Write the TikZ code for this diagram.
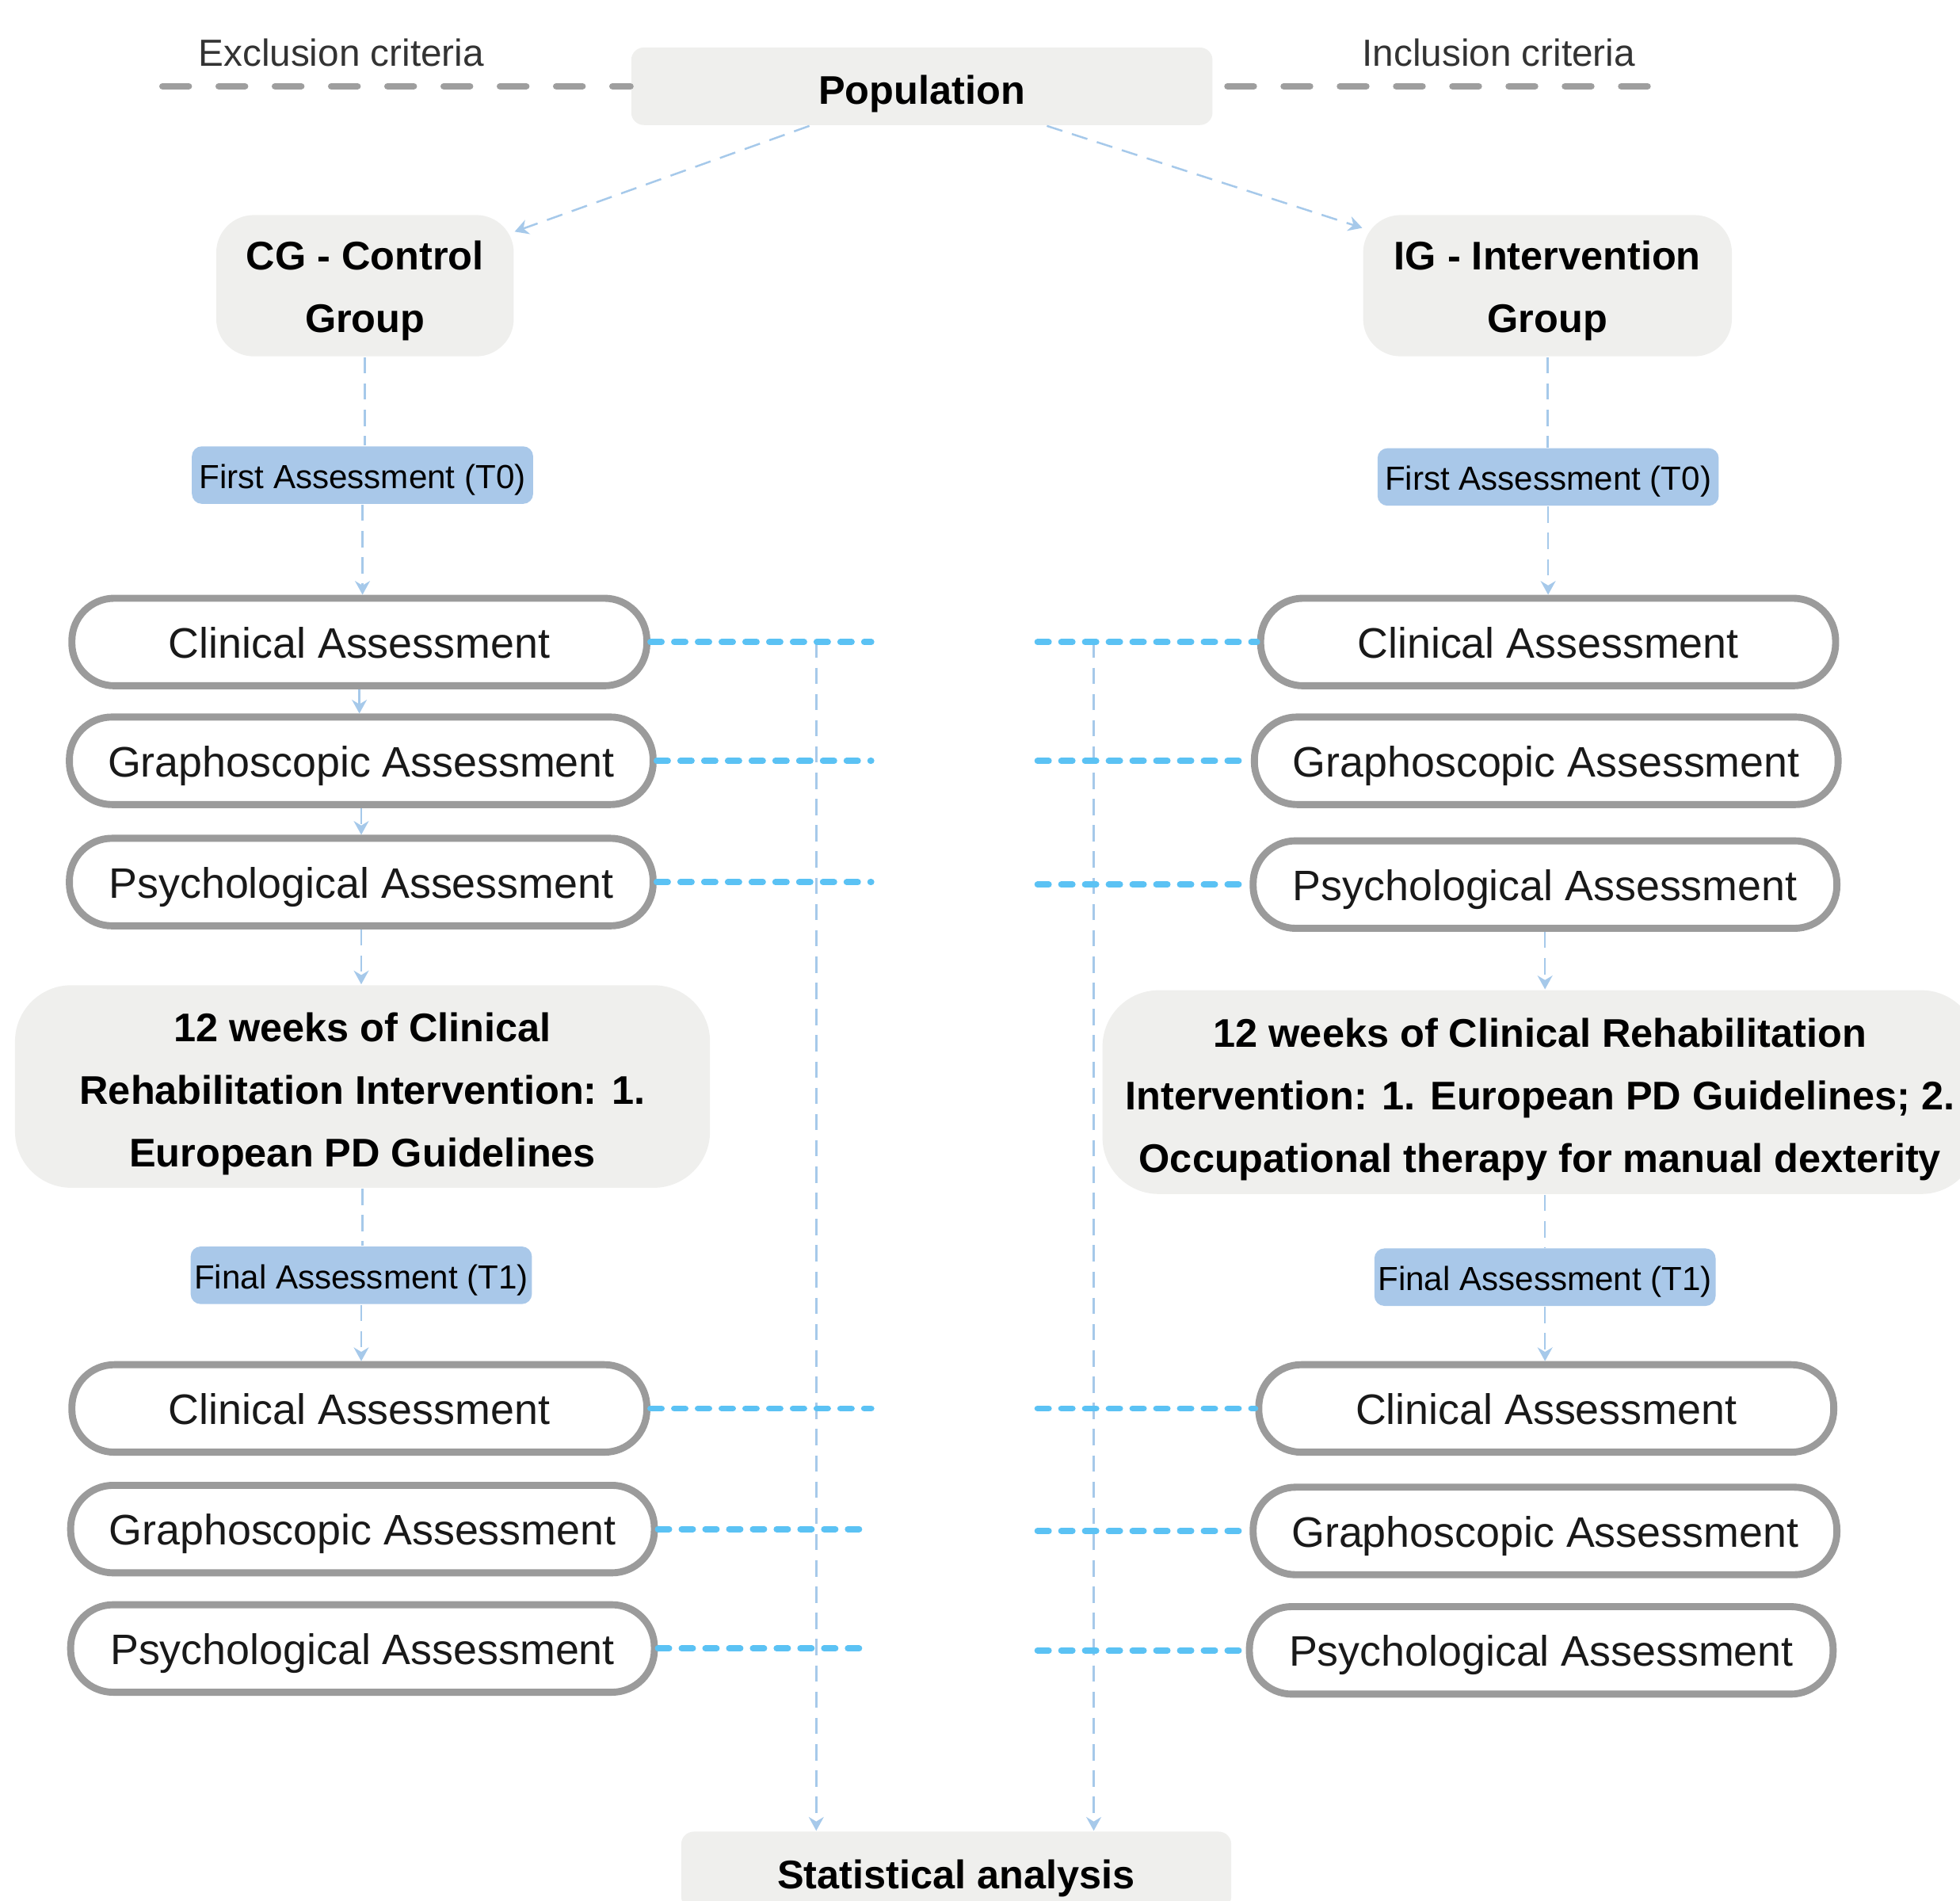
\documentclass[tikz,border=0pt]{standalone}
\usepackage{fontspec}
\setmainfont{Liberation Sans}
\usepackage{tikz}
\usetikzlibrary{arrows.meta}

\definecolor{boxgrey}{HTML}{EFEFED}
\definecolor{edgegrey}{HTML}{9B9B9B}
\definecolor{tagblue}{HTML}{A9C8E9}
\definecolor{flowblue}{HTML}{A6C9EA}
\definecolor{linkblue}{HTML}{5BC2F4}
\definecolor{critgrey}{HTML}{9E9E9E}

\begin{document}
\begin{tikzpicture}[x=0.1mm,y=-0.1mm,
  greybox/.style={fill=boxgrey,rounded corners=1mm,inner sep=0pt,align=center,
    text height=10.2pt,font=\fontsize{9.1}{14.2}\selectfont\bfseries},
  groupbox/.style={greybox,rounded corners=3mm,minimum height=11.3mm,text height=23.2pt},
  treatbox/.style={greybox,rounded corners=4.5mm,text height=38.4pt},
  tagbox/.style={fill=tagblue,rounded corners=0.8mm,minimum width=27.3mm,
    minimum height=4.6mm,inner sep=0pt,text height=7.5pt,text depth=1.5pt,
    font=\fontsize{7.6}{9}\selectfont},
  assess/.style={draw=edgegrey,line width=1.6pt,fill=white,rounded corners=3.4mm,
    minimum width=46mm,minimum height=7mm,inner sep=0pt,text=black!90,
    text height=9.3pt,text depth=2pt,font=\fontsize{9.7}{11}\selectfont},
  wide/.style={minimum width=46.7mm},
  flow/.style={flowblue,line width=0.45pt,dash pattern=on 1.3mm off 0.8mm},
  flowarr/.style={flow,-{Stealth[length=1.1mm,width=1.2mm]}},
  link/.style={linkblue,line width=1.4pt,line cap=round,dash pattern=on 0.9mm off 1mm},
  crit/.style={critgrey,line width=1.5pt,line cap=round,dash pattern=on 2.1mm off 2.4mm},
  critlabel/.style={text=black!80,font=\fontsize{8.6}{10}\selectfont}]
\useasboundingbox (0,0) rectangle (1568,1520);
%
% population and the two criteria
\node[greybox,minimum width=46.5mm,minimum height=6.2mm] (pop) at (737.5,69) {Population};
\node[critlabel] (exlabel) at (273,42) {Exclusion criteria};
\node[critlabel] (inlabel) at (1199,42) {Inclusion criteria};
\coordinate (exend) at (130,69);
\coordinate (inend) at (1318,69);
\draw[crit] (exend) -- (pop.west);
\draw[crit] (inend) -- (pop.east);
%
\node[groupbox,minimum width=23.8mm] (cg) at (292,228.5) {CG - Control\\Group};
\node[groupbox,minimum width=29.5mm] (ig) at (1238,228.5) {IG - Intervention\\Group};
\draw[flowarr] ([xshift=-9mm]pop.south) -- ([yshift=-1.4mm]cg.north east);
\draw[flowarr] ([xshift=10mm]pop.south) -- ([yshift=-1.1mm]ig.north west);
%
% control group
\node[tagbox] (t0L) at (290,380) {First Assessment (T0)};
\node[assess] (clinL) at (287.5,513.5) {Clinical Assessment};
\node[assess,wide] (graphL) at (289,608.5) {Graphoscopic Assessment};
\node[assess,wide] (psyL) at (289,705.5) {Psychological Assessment};
\node[treatbox,minimum width=55.6mm,minimum height=16.2mm] (intL) at (290,869)
  {12 weeks of Clinical\\Rehabilitation Intervention: 1.\\European PD Guidelines};
\node[tagbox] (t1L) at (289,1020) {Final Assessment (T1)};
\node[assess] (clin1L) at (287.5,1126.5) {Clinical Assessment};
\node[assess,wide] (graph1L) at (290,1223) {Graphoscopic Assessment};
\node[assess,wide] (psy1L) at (290,1318.5) {Psychological Assessment};
%
% intervention group
\node[tagbox] (t0R) at (1238.5,381.5) {First Assessment (T0)};
\node[assess] (clinR) at (1238.5,513.5) {Clinical Assessment};
\node[assess,wide] (graphR) at (1237,608.5) {Graphoscopic Assessment};
\node[assess,wide] (psyR) at (1236,707.5) {Psychological Assessment};
\node[treatbox,minimum width=70mm,minimum height=16.3mm] (intR) at (1232,873.5)
  {12 weeks of Clinical Rehabilitation\\Intervention: 1. European PD Guidelines; 2.\\Occupational therapy for manual dexterity};
\node[tagbox] (t1R) at (1236,1021.5) {Final Assessment (T1)};
\node[assess] (clin1R) at (1237,1126.5) {Clinical Assessment};
\node[assess,wide] (graph1R) at (1236,1224.5) {Graphoscopic Assessment};
\node[assess,wide] (psy1R) at (1233,1320) {Psychological Assessment};
%
\node[greybox,minimum width=44mm,minimum height=6.2mm] (stat) at (765,1496) {Statistical analysis};
%
% time line of each group
\draw[flow] (cg.south) -- (cg.south |- t0L.north);
\draw[flowarr] (t0L.south) -- (t0L.south |- clinL.north);
\draw[flowarr] (clinL.south) -- (clinL.south |- graphL.north);
\draw[flowarr] (graphL.south) -- (graphL.south |- psyL.north);
\draw[flowarr] (psyL.south) -- (psyL.south |- intL.north);
\draw[flow] (intL.south) -- (intL.south |- t1L.north);
\draw[flowarr] (t1L.south) -- (t1L.south |- clin1L.north);
%
\draw[flow] (ig.south) -- (ig.south |- t0R.north);
\draw[flowarr] (t0R.south) -- (t0R.south |- clinR.north);
\draw[flowarr] (psyR.south) -- (psyR.south |- intR.north);
\draw[flow] (t1R.north |- intR.south) -- (t1R.north);
\draw[flowarr] (t1R.south) -- (t1R.south |- clin1R.north);
%
% everything goes down to the analysis
\coordinate (sumL) at (653,513);
\coordinate (sumR) at (875,513);
\draw[flowarr] (sumL) -- (sumL |- stat.north);
\draw[flowarr] (sumR) -- (sumR |- stat.north);
%
\coordinate (gapL) at (697,0);
\coordinate (gapR) at (830,0);
\draw[link] (clinL.east) -- (clinL.east -| gapL);
\draw[link] (graphL.east) -- (graphL.east -| gapL);
\draw[link] (psyL.east) -- (psyL.east -| gapL);
\draw[link] (clin1L.east) -- (clin1L.east -| gapL);
\draw[link] (graph1L.east) -- (graph1L.east -| gapL);
\draw[link] (psy1L.east) -- (psy1L.east -| gapL);
\draw[link] (clinR.west -| gapR) -- (clinR.west);
\draw[link] (graphR.west -| gapR) -- (graphR.west);
\draw[link] (psyR.west -| gapR) -- (psyR.west);
\draw[link] (clin1R.west -| gapR) -- (clin1R.west);
\draw[link] (graph1R.west -| gapR) -- (graph1R.west);
\draw[link] (psy1R.west -| gapR) -- (psy1R.west);
\end{tikzpicture}
\end{document}
